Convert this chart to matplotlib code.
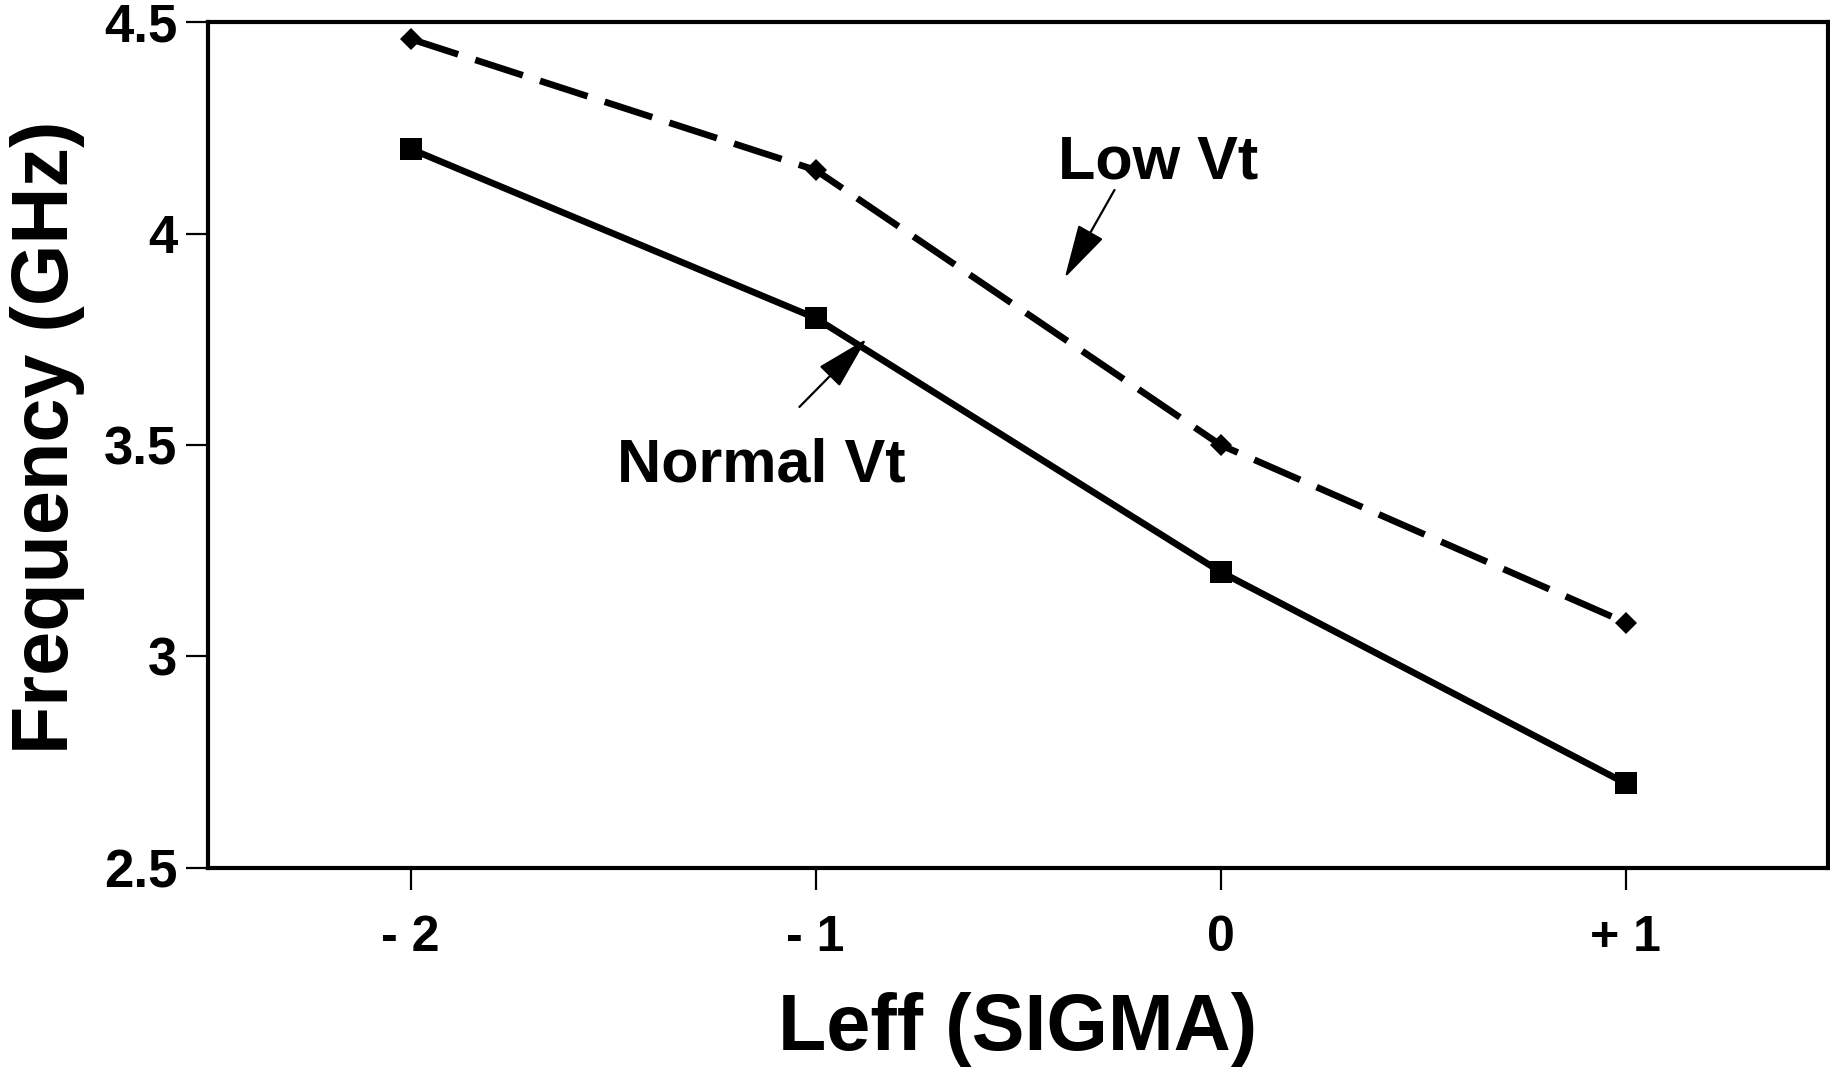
import matplotlib
matplotlib.use('Agg')
import matplotlib.pyplot as plt

plt.rcParams['font.family'] = ['Liberation Sans', 'DejaVu Sans']
plt.rcParams['font.weight'] = 'bold'

# data
leff = [-2, -1, 0, 1]
low_vt = [4.46, 4.15, 3.50, 3.08]
normal_vt = [4.20, 3.80, 3.20, 2.70]
xtick_labels = ['- 2', '- 1', '0', '+ 1']
yticks = [2.5, 3, 3.5, 4, 4.5]
ytick_labels = ['2.5', '3', '3.5', '4', '4.5']

fig = plt.figure(figsize=(18.3, 10.75), dpi=100)
ax = fig.add_axes([0.1137, 0.1926, 0.8853, 0.7869])

ax.plot(leff, low_vt, color='k', lw=4.8, dashes=(7.5, 2.7),
        marker='D', ms=11.5, mew=0)
ax.plot(leff, normal_vt, color='k', lw=4.8, linestyle='-',
        marker='s', ms=15.5, mew=0)

ax.set_xlim(-2.5, 1.5)
ax.set_ylim(2.5, 4.5)
ax.set_xticks(leff)
ax.set_xticklabels(xtick_labels)
ax.set_yticks(yticks)
ax.set_yticklabels(ytick_labels)

for s in ax.spines.values():
    s.set_linewidth(3)
ax.tick_params(axis='both', direction='out', length=16, width=1.6,
               color='k')
ax.tick_params(axis='x', pad=18, labelsize=36)
ax.tick_params(axis='y', pad=6, labelsize=38)
for lab in ax.get_xticklabels() + ax.get_yticklabels():
    lab.set_fontweight('bold')

ax.set_xlabel('Leff (SIGMA)', fontsize=57, fontweight='bold')
ax.set_ylabel('Frequency (GHz)', fontsize=57, fontweight='bold')
ax.xaxis.set_label_coords(0.5, -0.147)
ax.yaxis.set_label_coords(-0.076, 0.509)

# annotations
head = '-|>,head_length=3.4,head_width=0.9'
ax.annotate('', xy=(-0.385, 3.895), xytext=(-0.262, 4.103),
            arrowprops=dict(arrowstyle=head, color='k', lw=1.6,
                            shrinkA=0, shrinkB=0))
ax.text(-0.402, 4.129, 'Low Vt', fontsize=44, fontweight='bold',
        ha='left', va='baseline')

ax.annotate('', xy=(-0.874, 3.751), xytext=(-1.040, 3.590),
            arrowprops=dict(arrowstyle=head, color='k', lw=1.6,
                            shrinkA=0, shrinkB=0))
ax.text(-1.491, 3.413, 'Normal Vt', fontsize=44, fontweight='bold',
        ha='left', va='baseline')

plt.savefig('out.png', dpi=100)
